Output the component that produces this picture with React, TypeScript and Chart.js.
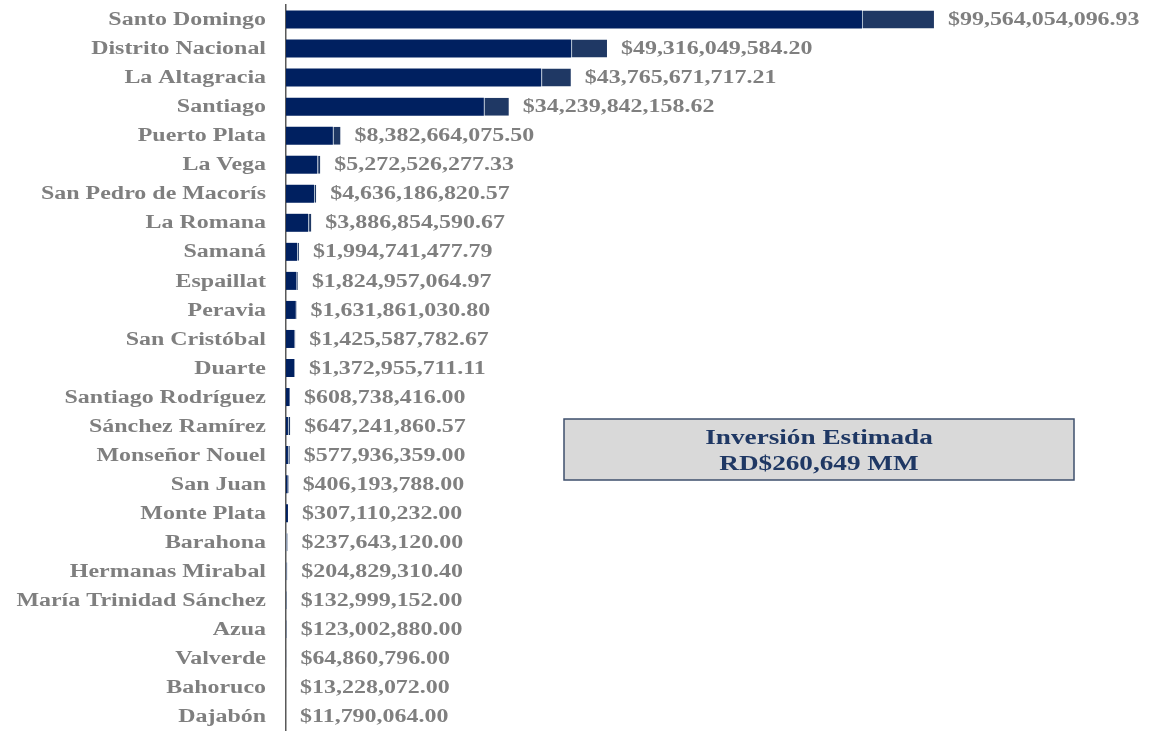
import React, { useEffect, useRef } from "react";
import { Chart, registerables } from "chart.js";

Chart.register(...registerables);

const categories = [
  "Santo Domingo", "Distrito Nacional", "La Altagracia", "Santiago", "Puerto Plata",
  "La Vega", "San Pedro de Macorís", "La Romana", "Samaná", "Espaillat",
  "Peravia", "San Cristóbal", "Duarte", "Santiago Rodríguez", "Sánchez Ramírez",
  "Monseñor Nouel", "San Juan", "Monte Plata", "Barahona", "Hermanas Mirabal",
  "María Trinidad Sánchez", "Azua", "Valverde", "Bahoruco", "Dajabón",
];

// values in RD$ billions (segments)
const primaryValues = [
  88.5, 43.8, 39.2, 30.4, 7.2,
  4.8, 4.3, 3.4, 1.7, 1.6,
  1.5, 1.3, 1.25, 0.55, 0.3,
  0.3, 0.25, 0.3, 0, 0,
  0, 0, 0, 0, 0,
];
const secondaryValues = [
  11.06, 5.52, 4.57, 3.84, 1.18,
  0.47, 0.34, 0.49, 0.29, 0.22,
  0.13, 0.13, 0.12, 0.06, 0.35,
  0.28, 0.16, 0.01, 0.24, 0.2,
  0.13, 0.12, 0.065, 0.013, 0.012,
];
const totals = [
  99564054096.93, 49316049584.2, 43765671717.21, 34239842158.62, 8382664075.5,
  5272526277.33, 4636186820.57, 3886854590.67, 1994741477.79, 1824957064.97,
  1631861030.8, 1425587782.67, 1372955711.11, 608738416.0, 647241860.57,
  577936359.0, 406193788.0, 307110232.0, 237643120.0, 204829310.4,
  132999152.0, 123002880.0, 64860796.0, 13228072.0, 11790064.0,
];
const boxLines = ["Inversión Estimada", "RD$260,649 MM"];

const fmt = (v: number) =>
  "$" + v.toLocaleString("en-US", { minimumFractionDigits: 2, maximumFractionDigits: 2 });

const labelPlugin = {
  id: "customLabels",
  afterDatasetsDraw(chart: any) {
    const { ctx, scales, chartArea } = chart;
    const xs = scales.x;
    const ys = scales.y;
    ctx.save();
    ctx.textBaseline = "middle";
    ctx.fillStyle = "#7f7f7f";
    ctx.font = "bold 18px 'Liberation Serif', 'Times New Roman', serif";
    categories.forEach((c, i) => {
      const y = ys.getPixelForValue(i);
      ctx.save();
      ctx.translate(chartArea.left - 20, y + 1);
      ctx.scale(1.33, 1);
      ctx.textAlign = "right";
      ctx.fillText(c, 0, 0);
      ctx.restore();

      const x = xs.getPixelForValue(totals[i] / 1e9) + 14;
      ctx.save();
      ctx.translate(x, y + 1);
      ctx.scale(1.33, 1);
      ctx.textAlign = "left";
      ctx.fillText(fmt(totals[i]), 0, 0);
      ctx.restore();
    });

    // summary box
    const bx = 564, by = 419, bw = 510, bh = 61;
    ctx.fillStyle = "#d9d9d9";
    ctx.fillRect(bx, by, bw, bh);
    ctx.strokeStyle = "#3e4f6c";
    ctx.lineWidth = 1.5;
    ctx.strokeRect(bx, by, bw, bh);
    ctx.fillStyle = "#1f3864";
    ctx.font = "bold 20px 'Liberation Serif', 'Times New Roman', serif";
    ctx.textAlign = "center";
    boxLines.forEach((t, k) => {
      ctx.save();
      ctx.translate(bx + bw / 2, by + 20 + k * 26);
      ctx.scale(1.36, 1);
      ctx.fillText(t, 0, 0);
      ctx.restore();
    });
    ctx.restore();
  },
};

export default function App() {
  const ref = useRef<HTMLCanvasElement | null>(null);
  useEffect(() => {
    if (!ref.current) return;
    const chart = new Chart(ref.current, {
      type: "bar",
      data: {
        labels: categories,
        datasets: [
          {
            label: "Primary",
            data: primaryValues,
            backgroundColor: "#002060",
            borderWidth: 0,
            barPercentage: 0.62,
            categoryPercentage: 1,
          },
          {
            label: "Secondary",
            data: secondaryValues,
            backgroundColor: "#1f3864",
            borderColor: "#aebdd0",
            borderWidth: { left: 1, right: 0, top: 0, bottom: 0 },
            borderSkipped: false,
            barPercentage: 0.62,
            categoryPercentage: 1,
          },
        ],
      },
      options: {
        indexAxis: "y",
        animation: false,
        responsive: true,
        maintainAspectRatio: false,
        layout: { padding: { left: 286, top: 5, right: 84, bottom: -4 } },
        plugins: { legend: { display: false }, tooltip: { enabled: false } },
        scales: {
          x: {
            stacked: true,
            display: false,
            min: 0,
            max: 120,
          },
          y: {
            stacked: true,
            grid: { display: false },
            ticks: { display: false },
            border: { display: true, color: "#595959", width: 1.5 },
            afterFit: (s: any) => {
              s.width = 0;
            },
          },
        },
      },
      plugins: [labelPlugin],
    } as any);
    return () => chart.destroy();
  }, []);
  return (
    <div style={{ position: "fixed", left: 0, top: 0, width: 1151, height: 731, background: "#fff" }}>
      <canvas ref={ref} />
    </div>
  );
}
